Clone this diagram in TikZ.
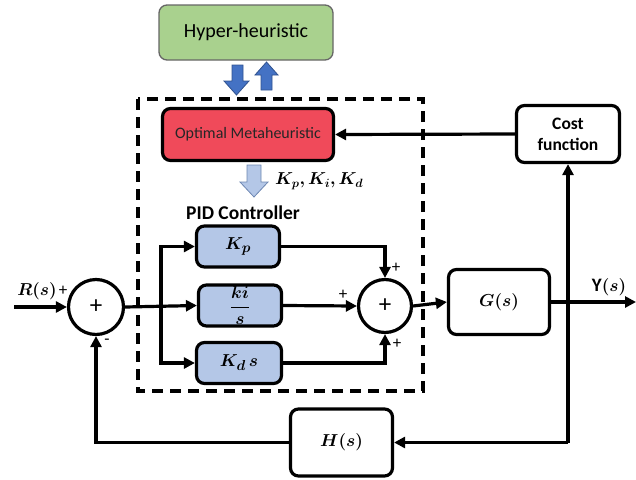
\documentclass[tikz,border=0pt]{standalone}
\usepackage{fontspec}
\setmainfont{Carlito}
\usepackage{bm}
\usetikzlibrary{arrows.meta}
\definecolor{hgreen}{HTML}{A9D18E}
\definecolor{hred}{HTML}{F04A5A}
\definecolor{lblue}{HTML}{B4C7E7}
\definecolor{dblue}{HTML}{4472C4}
\definecolor{oblue}{HTML}{2F528F}
\tikzset{
  blk/.style={draw=black, line width=3.2pt, rounded corners=8pt, align=center, inner sep=0pt},
  pid/.style={blk, fill=lblue, minimum width=83pt, minimum height=41pt, font=\fontsize{19}{21}\selectfont},
  sumnode/.style={circle, draw=black, line width=3.2pt, inner sep=0pt, font=\fontsize{25}{27}\selectfont},
  arr/.style={line width=3.2pt, -{Triangle[length=11pt,width=11pt]}},
  sgn/.style={font=\fontsize{17}{18}\selectfont, inner sep=0pt},
  barrow/.style={line width=0.8pt, draw=oblue, line join=miter}
}
\begin{document}
\begin{tikzpicture}[x=1pt,y=-1pt]
\useasboundingbox (0,0) rectangle (636,479);
% dashed frame
\draw[line width=3.6pt, dash pattern=on 11pt off 7pt] (138,99) rectangle (423,391);
% nodes
\node[blk, draw=gray!80!black, line width=1.3pt, fill=hgreen, minimum width=174pt, minimum height=55pt, font=\fontsize{20}{22}\selectfont] (hyp) at (246,32.5) {Hyper-heuristic};
\node[blk, fill=hred, minimum width=171pt, minimum height=52pt, font=\fontsize{16}{18}\selectfont, text=black!85] (opt) at (248,134.5) {Optimal Metaheuristic};
\node[blk, minimum width=103pt, minimum height=57pt, font=\bfseries\fontsize{17.5}{21}\selectfont] (cost) at (568,134) {Cost\\function};
\node[pid] (kp) at (238,246.5) {$\bm{K_p}$};
\node[pid, font=\fontsize{16}{18}\selectfont] (ki) at (240,305.5) {$\displaystyle\bm{\frac{ki}{s}}$};
\node[pid, minimum width=85pt] (kd) at (239,363) {$\bm{K_d\,s}$};
\node[sumnode, minimum size=55pt] (s1) at (96,307) {+};
\node[sumnode, minimum size=53pt] (s2) at (385,306) {+};
\node[blk, minimum width=101pt, minimum height=65pt, font=\fontsize{19}{21}\selectfont] (g) at (499,302) {$\bm{G(s)}$};
\node[blk, minimum width=102pt, minimum height=67pt, font=\fontsize{19}{21}\selectfont] (h) at (341.5,442.5) {$\bm{H(s)}$};
% block arrows
\draw[barrow, fill=dblue] (232,65) -- (243,65) -- (243,81) -- (249,81) -- (236.5,95) -- (224,81) -- (232,81) -- cycle;
\draw[barrow, fill=dblue] (261,90) -- (272,90) -- (272,75) -- (278,75) -- (266.5,62) -- (255,75) -- (261,75) -- cycle;
\draw[barrow, draw=oblue!70, fill=lblue] (247,165) -- (261,165) -- (261,182) -- (268,182) -- (254,197) -- (240,182) -- (247,182) -- cycle;
% labels
\node[font=\fontsize{17}{19}\selectfont, anchor=west, inner sep=0pt] (klab) at (275,181) {$\bm{K_p, K_i, K_d}$};
\node[font=\bfseries\fontsize{19.5}{21}\selectfont] (pidlab) at (243,213) {PID Controller};
\node[font=\fontsize{19}{21}\selectfont] (rlab) at (37,291) {$\bm{R(s)}$};
\node[sgn] (p0) at (63,291) {+};
\node[sgn] (m0) at (107,342) {-};
\node[sgn] (p1) at (396,268) {+};
\node[sgn] (p2) at (343,295) {+};
\node[sgn] (p3) at (397,344) {+};
\node[font=\fontsize{19}{21}\selectfont] (ylab) at (609,287) {\textbf{Y}$\bm{(s)}$};
% connectors
\coordinate (in) at (14,307);
\coordinate (j) at (161,307);
\coordinate (out) at (636,302);
\coordinate (fb) at (568,442.5);
\draw[arr] (in) -- (s1.west);
\draw[arr] (s1.east) -- (ki.west);
\draw[arr] (j) |- (kp.west);
\draw[arr] (j) |- (kd.west);
\draw[arr] (kp.east) -| (s2.north);
\draw[arr] (ki.east) -- (s2.west);
\draw[arr] (kd.east) -| (s2.south);
\draw[arr] (s2.east) -- (g.west);
\draw[arr] (g.east) -- (out);
\draw[arr] (fb) -- (fb |- cost.south);
\draw[arr] (fb) -- (h.east);
\draw[arr] (h.west) -| (s1.south);
\draw[arr] (cost.west) -- (opt.east);
\end{tikzpicture}
\end{document}
